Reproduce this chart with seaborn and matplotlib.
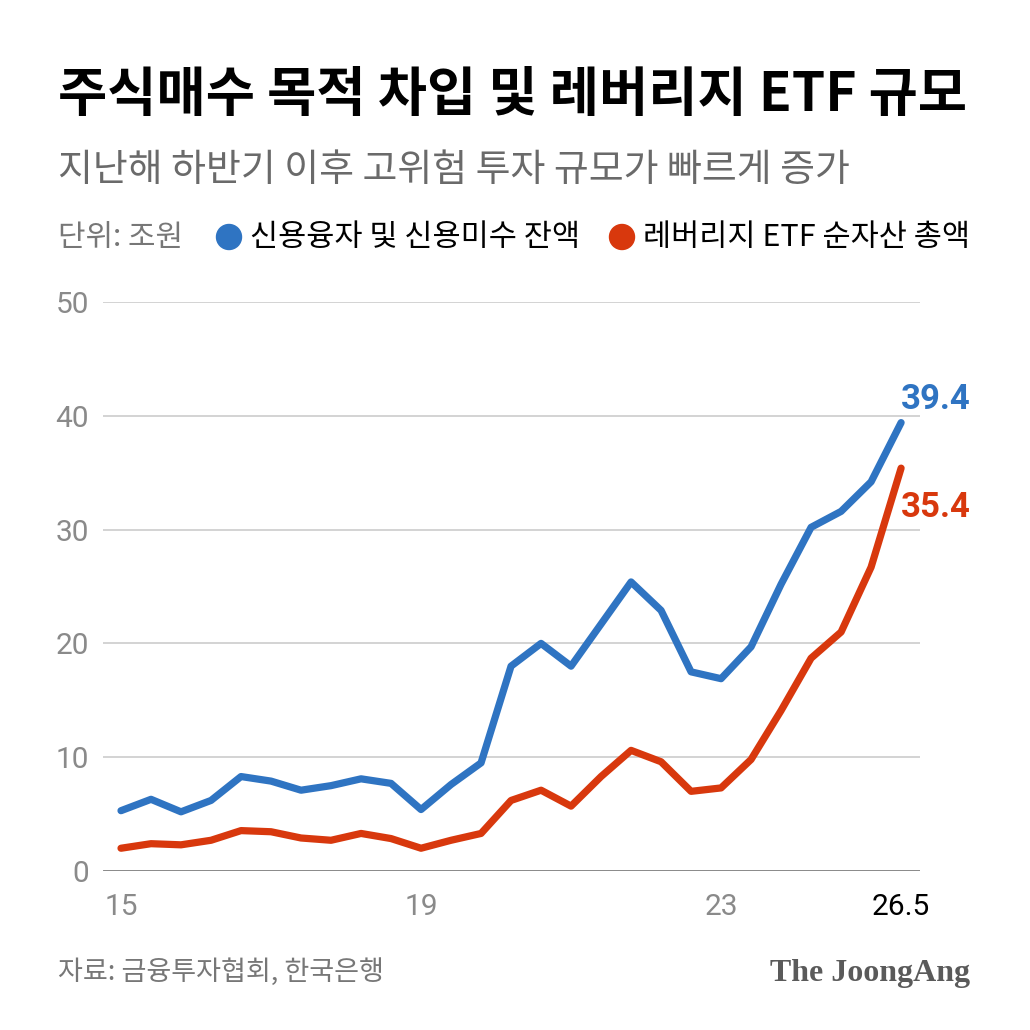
import matplotlib
matplotlib.use("Agg")
import matplotlib.pyplot as plt
from matplotlib.patches import Circle
import seaborn as sns
import pandas as pd
import numpy as np

# ---- data ----
periods = list(range(27))  # sequential observation points
credit_loans = [5.3, 6.3, 5.2, 6.2, 8.3, 7.9, 7.1, 7.5, 8.1, 7.7, 5.4, 7.6, 9.5,
                18.0, 20.0, 18.0, 21.7, 25.4, 22.9, 17.5, 16.9, 19.7, 25.2,
                30.2, 31.6, 34.2, 39.4]
leverage_etf = [2.0, 2.4, 2.3, 2.7, 3.55, 3.45, 2.9, 2.7, 3.3, 2.85, 2.0, 2.7, 3.3,
                6.2, 7.1, 5.7, 8.3, 10.6, 9.6, 7.0, 7.3, 9.8, 14.1,
                18.7, 21.0, 26.7, 35.4]
series_names = ["신용융자 및 신용미수 잔액", "레버리지 ETF 순자산 총액"]
xtick_pos = [0, 10, 20, 26]
xtick_labels = ["15", "19", "23", "26.5"]
ytick_vals = [0, 10, 20, 30, 40, 50]

BLUE = "#2f74c2"
RED = "#d8380d"
GRAY = "#8a8a8a"

df = pd.DataFrame({
    "period": periods * 2,
    "value": credit_loans + leverage_etf,
    "series": [series_names[0]] * len(periods) + [series_names[1]] * len(periods),
})

sns.set_theme(style="white")
KR = ["Noto Sans CJK KR", "DejaVu Sans"]
NUM = ["Roboto", "DejaVu Sans"]
plt.rcParams["font.family"] = KR

fig = plt.figure(figsize=(10.3, 10.3), dpi=100)
ax = fig.add_axes([103 / 1030, 1 - 871 / 1030, (920 - 103) / 1030, (871 - 302) / 1030])

sns.lineplot(data=df, x="period", y="value", hue="series",
             palette=[BLUE, RED], linewidth=5.2, ax=ax, legend=False,
             solid_capstyle="round", solid_joinstyle="round")
for l in ax.lines:
    l.set_clip_on(False)
    l.set_zorder(5)

ax.set_xlim(-0.6, 26.63)
ax.set_ylim(0, 50)
ax.set_xlabel("")
ax.set_ylabel("")
for s in ax.spines.values():
    s.set_visible(False)

for v in ytick_vals:
    ax.axhline(v, color="#666666" if v == 0 else "#d0d0d0",
               linewidth=1.8 if v == 0 else 1.3, zorder=1)

ax.set_yticks(ytick_vals)
ax.set_yticklabels([str(v) for v in ytick_vals], fontsize=21.5, color=GRAY, family=NUM)
ax.tick_params(axis="y", length=0, pad=10)
ax.set_xticks(xtick_pos)
ax.set_xticklabels(xtick_labels, fontsize=21.5, family=NUM)
ax.tick_params(axis="x", length=0, pad=16)
for i, t in enumerate(ax.get_xticklabels()):
    t.set_color("black" if i == len(xtick_labels) - 1 else GRAY)

# end value labels
ax.text(periods[-1], credit_loans[-1] + 2.0, f"{credit_loans[-1]:.1f}", color=BLUE,
        fontsize=25, fontweight="bold", ha="left", va="center",
        family=NUM, clip_on=False)
ax.text(periods[-1], leverage_etf[-1] - 3.5, f"{leverage_etf[-1]:.1f}", color=RED,
        fontsize=25, fontweight="bold", ha="left", va="center",
        family=NUM, clip_on=False)

def fy(px):
    return 1 - px / 1030

fig.text(58 / 1030, fy(95), "주식매수 목적 차입 및 레버리지 ETF 규모", fontsize=38.5,
         fontweight="heavy", color="black", va="center", ha="left", family=KR)
fig.text(58 / 1030, fy(170), "지난해 하반기 이후 고위험 투자 규모가 빠르게 증가", fontsize=27.3,
         color="#6a6a6a", va="center", ha="left", family=KR)
fig.text(58 / 1030, fy(238), "단위: 조원", fontsize=21.5, color="#777777",
         va="center", ha="left", family=KR)
fig.add_artist(Circle((229 / 1030, fy(237)), 12.5 / 1030, transform=fig.transFigure,
                      color=BLUE, zorder=10))
fig.text(250 / 1030, fy(238), series_names[0], fontsize=22, color="black",
         va="center", ha="left", family=KR)
fig.add_artist(Circle((622 / 1030, fy(237)), 12.5 / 1030, transform=fig.transFigure,
                      color=RED, zorder=10))
fig.text(643 / 1030, fy(238), series_names[1], fontsize=22, color="black",
         va="center", ha="left", family=KR)

fig.text(58 / 1030, fy(972), "자료: 금융투자협회, 한국은행", fontsize=19.5,
         color="#777777", va="center", ha="left", family=KR)
fig.text(970 / 1030, fy(974), "The JoongAng", fontsize=23, fontweight="bold",
         color="#5a5a5a", va="center", ha="right",
         family=["Liberation Serif", "DejaVu Serif"])

fig.savefig("out.png", dpi=100, facecolor="white")
